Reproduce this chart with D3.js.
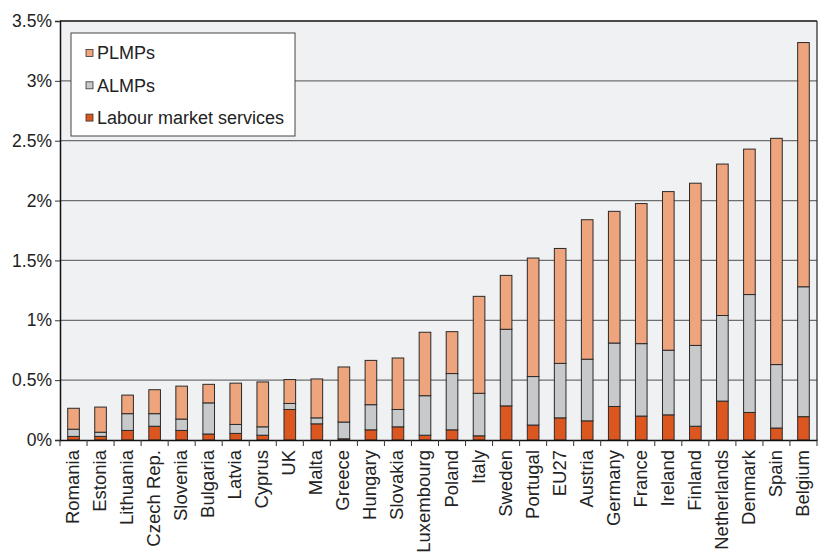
<!DOCTYPE html>
<html>
<head>
  <style>
    body { margin: 0; background: #fff; }
    svg { font-family: "Liberation Sans", Arial, sans-serif; }
    .grid line { stroke: #6f6f6f; stroke-width: 1.3; }
    .bar { stroke: #2a2a2a; stroke-width: 1; }
  </style>
</head>
<body>
  <svg width="818" height="552"></svg>
  <script src="https://d3js.org/d3.v7.min.js"></script>
  <script>
    // spending as % of GDP
    var countries = ["Romania", "Estonia", "Lithuania", "Czech Rep.", "Slovenia", "Bulgaria", "Latvia", "Cyprus", "UK", "Malta",
      "Greece", "Hungary", "Slovakia", "Luxembourg", "Poland", "Italy", "Sweden", "Portugal", "EU27", "Austria",
      "Germany", "France", "Ireland", "Finland", "Netherlands", "Denmark", "Spain", "Belgium"];
    var lms = [0.03, 0.03, 0.08, 0.115, 0.08, 0.05, 0.055, 0.04, 0.255, 0.135,
      0.01, 0.085, 0.11, 0.04, 0.085, 0.035, 0.285, 0.125, 0.185, 0.16,
      0.28, 0.20, 0.21, 0.115, 0.325, 0.23, 0.10, 0.195];
    var almp = [0.06, 0.035, 0.14, 0.105, 0.095, 0.26, 0.075, 0.07, 0.05, 0.05,
      0.14, 0.21, 0.145, 0.33, 0.47, 0.355, 0.64, 0.405, 0.455, 0.515,
      0.53, 0.605, 0.54, 0.675, 0.715, 0.985, 0.53, 1.085];
    var plmp = [0.175, 0.21, 0.155, 0.20, 0.275, 0.155, 0.345, 0.375, 0.20, 0.325,
      0.46, 0.37, 0.43, 0.53, 0.35, 0.81, 0.45, 0.99, 0.96, 1.165,
      1.10, 1.17, 1.325, 1.355, 1.265, 1.215, 1.89, 2.04];
    var yTicks = [0, 0.5, 1, 1.5, 2, 2.5, 3, 3.5];
    var yTickLabels = ["0%", "0.5%", "1%", "1.5%", "2%", "2.5%", "3%", "3.5%"];
    var seriesKeys = ["lms", "almp", "plmp"];
    var seriesNames = ["Labour market services", "ALMPs", "PLMPs"];
    var colors = { lms: "#dc5620", almp: "#c8c9cb", plmp: "#eea47c" };

    var svg = d3.select("svg"),
      margin = { top: 21, right: 1, bottom: 112, left: 60 },
      width = +svg.attr("width") - margin.left - margin.right,
      height = +svg.attr("height") - margin.top - margin.bottom;

    var data = countries.map(function(c, i) {
      return { country: c, lms: lms[i], almp: almp[i], plmp: plmp[i] };
    });

    var x = d3.scaleBand().domain(countries).range([0, width]).paddingInner(0.57).paddingOuter(0.285),
      y = d3.scaleLinear().domain([0, 3.5]).range([height, 0]);

    var g = svg.append("g")
      .attr("transform", "translate(" + margin.left + "," + margin.top + ")");

    g.append("rect")
      .attr("width", width)
      .attr("height", height)
      .attr("fill", "#f0f1f3");

    // gridlines
    g.append("g")
      .attr("class", "grid")
      .selectAll("line")
      .data(yTicks.slice(1))
      .enter().append("line")
      .attr("x1", 0)
      .attr("x2", width)
      .attr("y1", function(d) { return y(d); })
      .attr("y2", function(d) { return y(d); });

    // right frame
    g.append("line")
      .attr("x1", width).attr("x2", width)
      .attr("y1", 0).attr("y2", height)
      .attr("stroke", "#333").attr("stroke-width", 1.3);
    g.append("line")
      .attr("x1", 0).attr("x2", width)
      .attr("y1", 0).attr("y2", 0)
      .attr("stroke", "#333").attr("stroke-width", 1.5);

    var stacked = d3.stack().keys(seriesKeys)(data);

    g.selectAll(".layer")
      .data(stacked)
      .enter().append("g")
      .attr("class", "layer")
      .attr("fill", function(d) { return colors[d.key]; })
      .selectAll("rect")
      .data(function(d) { return d; })
      .enter().append("rect")
      .attr("class", "bar")
      .attr("x", function(d) { return x(d.data.country); })
      .attr("y", function(d) { return y(d[1]); })
      .attr("width", x.bandwidth())
      .attr("height", function(d) { return y(d[0]) - y(d[1]); });

    // y axis
    var yAxis = g.append("g")
      .call(d3.axisLeft(y).tickValues(yTicks).tickSize(5).tickPadding(3)
        .tickFormat(function(d, i) { return yTickLabels[i]; }));
    yAxis.select(".domain").attr("stroke", "#111").attr("stroke-width", 1.5);
    yAxis.selectAll(".tick line").attr("stroke", "#333");
    yAxis.selectAll("text").attr("font-size", 17.5).attr("fill", "#222")
      .attr("font-family", "Liberation Sans, Arial, sans-serif");

    // x axis
    var xAxis = g.append("g")
      .attr("transform", "translate(0," + height + ")")
      .call(d3.axisBottom(x).tickSize(0).tickPadding(0));
    xAxis.select(".domain").attr("stroke", "#111").attr("stroke-width", 1.5);
    xAxis.selectAll("text")
      .attr("font-size", 18.5)
      .attr("fill", "#222")
      .attr("font-family", "Liberation Sans, Arial, sans-serif")
      .attr("transform", "rotate(-90)")
      .attr("x", -10)
      .attr("y", -1)
      .attr("dy", "0.35em")
      .style("text-anchor", "end");

    // ticks between categories
    xAxis.selectAll(".sep")
      .data(countries.concat(["end"]))
      .enter().append("line")
      .attr("class", "sep")
      .attr("x1", function(d, i) { return x.step() * i; })
      .attr("x2", function(d, i) { return x.step() * i; })
      .attr("y1", 0)
      .attr("y2", 6)
      .attr("stroke", "#333");

    // legend
    var legend = g.append("g").attr("transform", "translate(11,12)");
    legend.append("rect")
      .attr("width", 224)
      .attr("height", 103)
      .attr("fill", "#fff")
      .attr("stroke", "#444")
      .attr("stroke-width", 1);

    var order = ["plmp", "almp", "lms"];
    var items = legend.selectAll(".item")
      .data(order)
      .enter().append("g")
      .attr("transform", function(d, i) { return "translate(15," + (20 + i * 32.3) + ")"; });
    items.append("rect")
      .attr("x", 0).attr("y", -3.5)
      .attr("width", 7).attr("height", 7)
      .attr("fill", function(d) { return colors[d]; })
      .attr("stroke", "#333").attr("stroke-width", 0.8);
    items.append("text")
      .attr("x", 11)
      .attr("dy", "0.35em")
      .attr("font-size", 18)
      .attr("fill", "#222")
      .text(function(d) { return seriesNames[seriesKeys.indexOf(d)]; });
  </script>
</body>
</html>
